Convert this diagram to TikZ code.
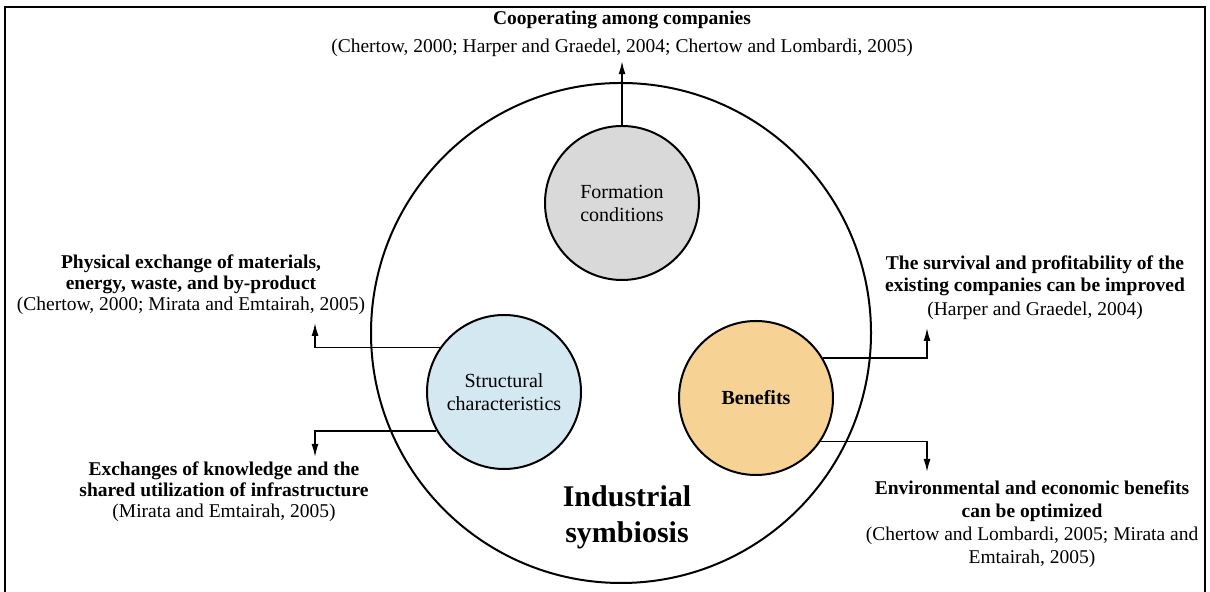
\documentclass[tikz,border=0pt]{standalone}
\usepackage{fontspec}
\setmainfont{Liberation Serif}
\usetikzlibrary{arrows.meta}

\definecolor{formgray}{RGB}{217,217,217}
\definecolor{structblue}{RGB}{212,232,242}
\definecolor{benorange}{RGB}{246,211,148}

\tikzset{
  part/.style={circle, draw, line width=1pt, minimum size=77pt, inner sep=0pt,
    align=center, font=\fontsize{10}{11.5}\selectfont},
  note/.style={align=center, inner sep=2pt, font=\fontsize{9.75}{11}\selectfont},
  link/.style={-{Latex[length=6.5pt,width=3.5pt]}, line width=0.75pt},
}

\begin{document}
\begin{tikzpicture}[x=0.5pt,y=0.5pt]
  \useasboundingbox (0,0) rectangle (1210,592);

  % Frame (bottom edge cut off)
  \draw[line width=1pt] (5,0) -- (5,585) -- (1205,585) -- (1205,0);

  % Industrial symbiosis circle
  \node (sym) [circle, draw, line width=1pt, minimum size=250pt] at (621,259) {};
  \node (symlbl) [align=center, font=\fontsize{15}{18}\selectfont\bfseries] at (627,75)
    {Industrial\\symbiosis};

  % Inner circles
  \node (form) [part, fill=formgray] at (622,389) {Formation\\conditions};
  \node (struct) [part, fill=structblue] at (504,200) {Structural\\characteristics};
  \node (ben) [part, fill=benorange, font=\fontsize{10}{11.5}\selectfont\bfseries] at (756,194) {Benefits};

  % Notes
  \node (coop) [note] at (622,558)
    {\textbf{Cooperating among companies}\\[3pt](Chertow, 2000; Harper and Graedel, 2004; Chertow and Lombardi, 2005)};
  \node (phys) [note, font=\fontsize{9.75}{10.5}\selectfont] at (191,307)
    {\textbf{Physical exchange of materials,}\\\textbf{energy, waste, and by-product}\\(Chertow, 2000; Mirata and Emtairah, 2005)};
  \node (know) [note, font=\fontsize{9.75}{10.5}\selectfont] at (224,100)
    {\textbf{Exchanges of knowledge and the}\\\textbf{shared utilization of infrastructure}\\(Mirata and Emtairah, 2005)};
  \node (surv) [note] at (1035,304)
    {\textbf{The survival and profitability of the}\\\textbf{existing companies can be improved}\\[1pt](Harper and Graedel, 2004)};
  \node (env) [note, font=\fontsize{9.75}{11.5}\selectfont] at (1032,68)
    {\textbf{Environmental and economic benefits}\\\textbf{can be optimized}\\(Chertow and Lombardi, 2005; Mirata and\\Emtairah, 2005)};

  % Arrow ends
  \coordinate (physin) at (315,269);
  \coordinate (knowin) at (315,135);
  \coordinate (survin) at (927,264);
  \coordinate (envin) at (927,120);

  % Connectors
  \draw[link] (form.north) -- (coop.south);
  \draw[link] (struct.145) -| (physin);
  \draw[link] (struct.210) -| (knowin);
  \draw[link] (ben.31) -| (survin);
  \draw[link] (ben.326) -| (envin);
\end{tikzpicture}
\end{document}
